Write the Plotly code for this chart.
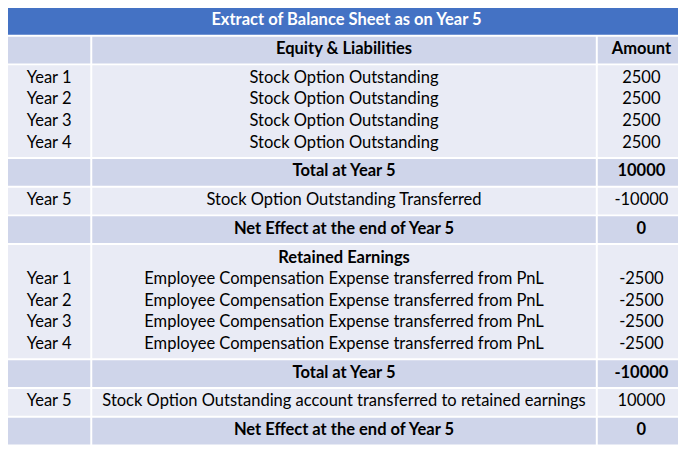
import plotly.graph_objects as go

# Table content
title = "Extract of Balance Sheet as on Year 5"
header_labels = ["", "Equity & Liabilities", "Amount"]

opt_years = ["Year 1", "Year 2", "Year 3", "Year 4"]
opt_desc = ["Stock Option Outstanding", "Stock Option Outstanding",
            "Stock Option Outstanding", "Stock Option Outstanding"]
opt_amounts = [2500, 2500, 2500, 2500]
opt_total = 10000
opt_transfer_year = "Year 5"
opt_transfer_desc = "Stock Option Outstanding Transferred"
opt_transfer_amount = -10000
opt_net = 0

re_heading = "Retained Earnings"
re_years = ["Year 1", "Year 2", "Year 3", "Year 4"]
re_desc = ["Employee Compensation Expense transferred from PnL",
           "Employee Compensation Expense transferred from PnL",
           "Employee Compensation Expense transferred from PnL",
           "Employee Compensation Expense transferred from PnL"]
re_amounts = [-2500, -2500, -2500, -2500]
re_total = -10000
re_transfer_year = "Year 5"
re_transfer_desc = "Stock Option Outstanding account transferred to retained earnings"
re_transfer_amount = 10000
re_net = 0

total_label = "Total at Year 5"
net_label = "Net Effect at the end of Year 5"

BLUE = "#4472C4"
DARK = "#CFD5EA"
LIGHT = "#E9EBF5"
FONT = "Lato, Open Sans, sans-serif"


def bold(v):
    return f"<b>{v}</b>"


def strs(items):
    return [str(v) for v in items]


# each row: one list of text lines per column ("" = empty line) and its fill
rows = [
    ([header_labels[0]], [bold(header_labels[1])], [bold(header_labels[2])], DARK),
    (opt_years, opt_desc, strs(opt_amounts), LIGHT),
    ([""], [bold(total_label)], [bold(opt_total)], DARK),
    ([opt_transfer_year], [opt_transfer_desc], [str(opt_transfer_amount)], LIGHT),
    ([""], [bold(net_label)], [bold(opt_net)], DARK),
    ([""] + re_years, [bold(re_heading)] + re_desc, [""] + strs(re_amounts), LIGHT),
    ([""], [bold(total_label)], [bold(re_total)], DARK),
    ([re_transfer_year], [re_transfer_desc], [str(re_transfer_amount)], LIGHT),
    ([""], [bold(net_label)], [bold(re_net)], DARK),
]

# geometry in reference-pixel units (axes map them onto the figure)
col_edges = [(2, 85), (87, 595), (597, 685)]
TOP = 3
TITLE_H = 27
ROW_H = 27
LINE = 21.9
GAP = 2

shapes = []
tx, ty, tt, tc = [], [], [], []

# title bar spanning all columns
shapes.append(dict(type="rect", xref="x", yref="y", layer="below",
                   x0=col_edges[0][0], x1=col_edges[-1][1],
                   y0=TOP, y1=TOP + TITLE_H, fillcolor=BLUE, line_width=0))
tx.append((col_edges[0][0] + col_edges[-1][1]) / 2)
ty.append(TOP + TITLE_H / 2)
tt.append(bold(title))
tc.append("white")

y = TOP + TITLE_H + GAP
for *cols, fill in rows:
    n = max(len(c) for c in cols)
    h = ROW_H + LINE * (n - 1)
    mid = y + h / 2
    for (x0, x1), lines in zip(col_edges, cols):
        shapes.append(dict(type="rect", xref="x", yref="y", layer="below",
                           x0=x0, x1=x1, y0=y, y1=y + h,
                           fillcolor=fill, line_width=0))
        for i, s in enumerate(lines):
            if not s:
                continue
            tx.append((x0 + x1) / 2)
            ty.append(mid + (i - (n - 1) / 2) * LINE)
            tt.append(s)
            tc.append("black")
    y += h + GAP

fig = go.Figure(go.Scatter(
    x=tx, y=ty, text=tt, mode="text",
    textposition="middle center",
    textfont=dict(family=FONT, size=16.5, color=tc),
    hoverinfo="skip", showlegend=False,
))

# page body has an 8px margin, so the figure is slightly smaller than the window
fig.update_layout(
    width=678,
    height=445,
    margin=dict(l=0, r=0, t=0, b=0),
    paper_bgcolor="white",
    plot_bgcolor="white",
    shapes=shapes,
    xaxis=dict(range=[2, 686], visible=False, fixedrange=True),
    yaxis=dict(range=[453, 3], visible=False, fixedrange=True),
)

fig.write_html("out.html")
